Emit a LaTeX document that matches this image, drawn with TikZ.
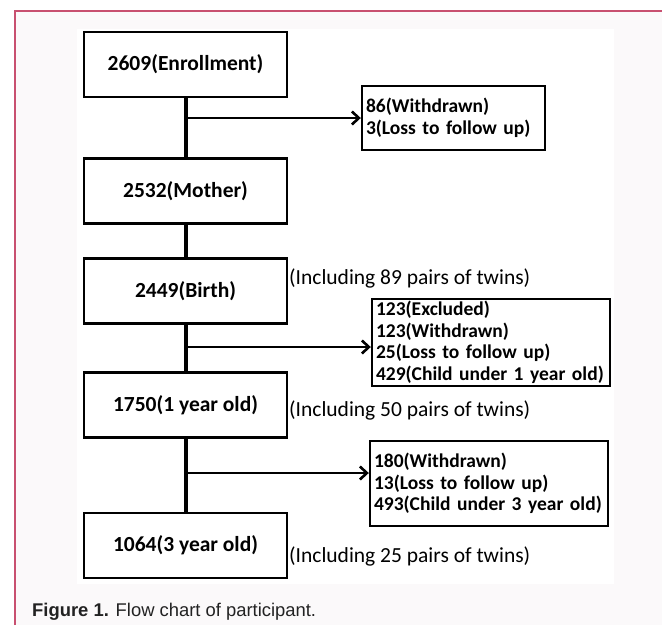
\documentclass[tikz,border=0pt]{standalone}
\usepackage{fontspec}
\usetikzlibrary{arrows.meta}
\newfontfamily\boxfont{Carlito}
\newfontfamily\capfont{Liberation Sans}
\definecolor{framered}{RGB}{200,80,112}
\definecolor{bggrey}{RGB}{251,249,250}
\definecolor{captxt}{RGB}{34,34,34}
\tikzset{
  mainbox/.style={draw, line width=2.6pt, minimum width=203pt, minimum height=65pt, inner sep=0pt,
    font=\boxfont\bfseries\fontsize{21.5}{24}\selectfont},
  sidebox/.style={draw, line width=2.4pt, align=left, inner xsep=4pt, inner ysep=0pt,
    font=\boxfont\bfseries\fontsize{19.5}{21.5}\selectfont},
  twins/.style={anchor=west, inner sep=0pt, font=\boxfont\fontsize{21.5}{24}\selectfont},
  trunk/.style={line width=4pt},
  branch/.style={line width=2.6pt, -{Straight Barb[length=7pt,width=13pt,line width=2.6pt]}},
}
\begin{document}
\begin{tikzpicture}[x=1pt,y=-1pt]
\useasboundingbox (0,0) rectangle (662,625);
\fill[white] (0,0) rectangle (662,625);
\fill[bggrey] (15,11) rectangle (662,625);
\draw[framered, line width=2pt] (15,625) -- (15,11) -- (662,11);
\fill[white] (77,29) rectangle (614,584);

\node[mainbox] (b1) at (185.5,64.5) {2609(Enrollment)};
\node[mainbox] (b2) at (185.5,191) {2532(Mother)};
\node[mainbox] (b3) at (185.5,291) {2449(Birth)};
\node[mainbox] (b4) at (185.5,405) {1750(1 year old)};
\node[mainbox] (b5) at (185.5,545.5) {1064(3 year old)};

\node[sidebox, text width=175pt, minimum height=64pt] (sa) at (453.5,118) {86(Withdrawn)\\3(Loss to follow up)};
\node[sidebox, text width=230pt, minimum height=87pt] (sb) at (491,342.5) {123(Excluded)\\123(Withdrawn)\\25(Loss to follow up)\\429(Child under 1 year old)};
\node[sidebox, text width=230pt, minimum height=85pt] (sc) at (489,483.5) {180(Withdrawn)\\13(Loss to follow up)\\493(Child under 3 year old)};

\node[twins] (t1) at (289,278) {(Including 89 pairs of twins)};
\node[twins] (t2) at (289,410) {(Including 50 pairs of twins)};
\node[twins] (t3) at (289,556) {(Including 25 pairs of twins)};

\draw[trunk] (b1) -- (b2);
\draw[trunk] (b2) -- (b3);
\draw[trunk] (b3) -- (b4);
\draw[trunk] (b4) -- (b5);

\coordinate (j1) at (186,118);
\coordinate (j2) at (186,347);
\coordinate (j3) at (186,473);
\draw[branch] (j1) -- (j1 -| sa.west);
\draw[branch] (j2) -- (j2 -| sb.west);
\draw[branch] (j3) -- (j3 -| sc.west);

\node[anchor=base west, inner sep=0pt, text=captxt, font=\capfont\fontsize{18.4}{21}\selectfont] (cap) at (32,616) {\textbf{Figure 1.} Flow chart of participant.};
\end{tikzpicture}
\end{document}
